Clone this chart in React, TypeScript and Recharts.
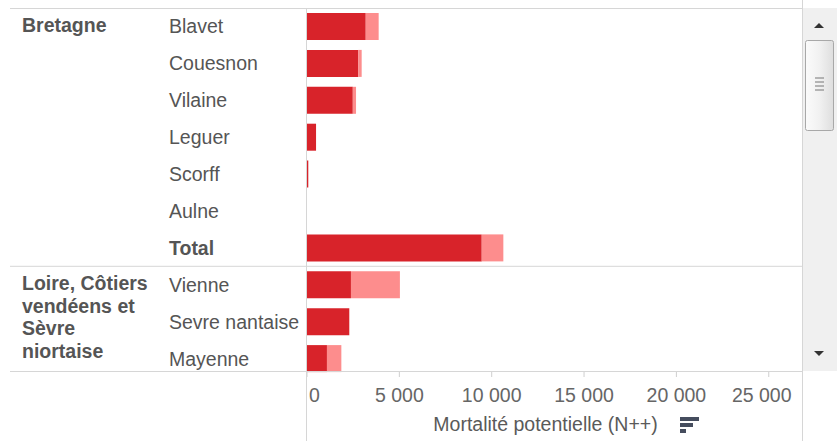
import React from 'react';
import { BarChart, Bar, XAxis, YAxis, Label } from 'recharts';

// ---- data ----
const groupLines: string[][] = [
  ['Bretagne'],
  ['Loire, Côtiers', 'vendéens et', 'Sèvre', 'niortaise'],
];
const rivers = ['Blavet', 'Couesnon', 'Vilaine', 'Leguer', 'Scorff', 'Aulne', 'Total', 'Vienne', 'Sevre nantaise', 'Mayenne'];
const riverGroup = [0, 0, 0, 0, 0, 0, 0, 1, 1, 1];
const mortaliteFonce = [3180, 2780, 2480, 490, 70, 0, 9460, 2380, 2290, 1080];
const mortaliteClair = [700, 180, 175, 0, 0, 0, 1170, 2650, 0, 780];
const xTicks = [0, 5000, 10000, 15000, 20000, 25000];
const xMax = 26800;
const axisTitle = 'Mortalité potentielle (N++)';

const data = rivers.map((r, i) => ({
  river: r,
  group: riverGroup[i],
  dark: mortaliteFonce[i],
  light: mortaliteClair[i],
}));

const FONT = '"Liberation Sans", Arial, sans-serif';
const LINE = '#d6d6d6';
const TEXT = '#555555';

const fmt = (v: number) => String(v).replace(/\B(?=(\d{3})+(?!\d))/g, ' ');

const RowTick = (props: any) => {
  const { y, payload } = props;
  const i: number = payload.index ?? props.index;
  const half: number = payload.offset ?? 18.45;
  const d = data[i];
  if (!d) return null;
  const first = i === 0 || data[i - 1].group !== d.group;
  const top = y - half;
  return (
    <g>
      {first && i > 0 && <line x1={10} x2={802} y1={top} y2={top} stroke={LINE} strokeWidth={1} />}
      {first &&
        groupLines[d.group].map((t, k) => (
          <text key={k} x={22} y={top + 23.5 + k * 22.7} fontFamily={FONT} fontSize={19.5} fontWeight="bold" fill={TEXT}>
            {t}
          </text>
        ))}
      <text x={169} y={y + 7} fontFamily={FONT} fontSize={19.5} fontWeight={d.river === 'Total' ? 'bold' : 'normal'} fill={TEXT}>
        {d.river}
      </text>
    </g>
  );
};

const XTick = (props: any) => {
  const { x, y, payload } = props;
  const v: number = payload.value;
  let dx = 0;
  if (v === xTicks[0]) dx = 7.5;
  if (v === xTicks[xTicks.length - 1]) dx = -7;
  return (
    <text x={x + dx} y={y + 22.5} textAnchor="middle" fontFamily={FONT} fontSize={19.5} fill="#666666">
      {fmt(v)}
    </text>
  );
};

const AxisTitle = (props: any) => {
  const vb = props.viewBox || { x: 307, y: 371, width: 495 };
  return (
    <text x={vb.x + vb.width / 2 - 9} y={vb.y + 60} textAnchor="middle" fontFamily={FONT} fontSize={19.5} fill="#5a5a5a">
      {axisTitle}
    </text>
  );
};

export default function App() {
  return (
    <div style={{ position: 'fixed', left: 0, top: 0, width: 837, height: 441, background: '#ffffff', overflow: 'hidden' }}>
      <div style={{ position: 'absolute', left: 0, top: 0 }}>
        <BarChart
          width={837}
          height={441}
          data={data}
          layout="vertical"
          margin={{ top: 8, right: 35, bottom: 0, left: 0 }}
          barSize={27}
        >
          <YAxis
            type="category"
            dataKey="river"
            width={307}
            axisLine={false}
            tickLine={false}
            interval={0}
            tick={<RowTick />}
            padding={{ top: 0, bottom: -6 }}
          />
          <XAxis
            type="number"
            domain={[0, xMax]}
            ticks={xTicks}
            allowDataOverflow
            height={70}
            axisLine={false}
            tickLine={{ stroke: '#cfcfcf' }}
            tickSize={6}
            tick={<XTick />}
            interval={0}
          >
            <Label content={<AxisTitle />} />
          </XAxis>
          <Bar dataKey="dark" stackId="a" fill="#d8232a" isAnimationActive={false} />
          <Bar dataKey="light" stackId="a" fill="#fd8d8d" isAnimationActive={false} />
        </BarChart>
      </div>
      <svg width={837} height={441} style={{ position: 'absolute', left: 0, top: 0, pointerEvents: 'none' }}>
        <defs>
          <linearGradient id="thumb" x1="0" x2="1" y1="0" y2="0">
            <stop offset="0" stopColor="#fbfbfb" />
            <stop offset="0.5" stopColor="#f1f1f1" />
            <stop offset="1" stopColor="#dedede" />
          </linearGradient>
        </defs>
        {/* frame lines */}
        <line x1={10} x2={802} y1={8.5} y2={8.5} stroke={LINE} />
        <line x1={10} x2={802} y1={371.5} y2={371.5} stroke={LINE} />
        <line x1={306.5} x2={306.5} y1={8} y2={441} stroke={LINE} />
        <line x1={802.5} x2={802.5} y1={0} y2={441} stroke={LINE} />
        {/* scrollbar */}
        <rect x={803} y={8} width={34} height={363} fill="#f0f0f0" />
        <path d="M814 28 L819 23 L824 28 Z" fill="#333" />
        <rect x={805.5} y={40.5} width={28} height={90} rx={2} fill="url(#thumb)" stroke="#a8a8a8" />
        {[78, 82, 86, 90].map((gy) => (
          <line key={gy} x1={815} x2={824} y1={gy} y2={gy} stroke="#777" strokeWidth={1} />
        ))}
        <path d="M814 351 L824 351 L819 356 Z" fill="#333" />
        {/* sort icon */}
        <rect x={680} y={417} width={19} height={4} fill="#454d5e" />
        <rect x={680} y={423} width={13} height={4} fill="#454d5e" />
        <rect x={680} y={429} width={6} height={4} fill="#454d5e" />
      </svg>
    </div>
  );
}
